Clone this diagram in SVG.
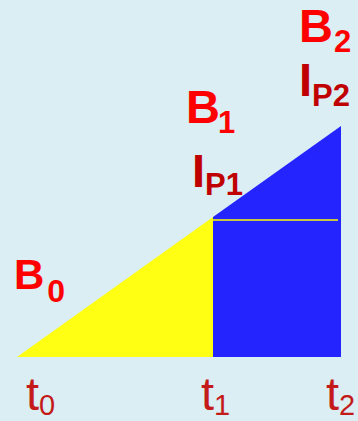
<svg xmlns="http://www.w3.org/2000/svg" width="358" height="421" viewBox="0 0 358 421">
<style>
.lb{font-family:"Liberation Sans",Arial,sans-serif;font-weight:bold;fill:#FF0000}
.li{font-family:"Liberation Sans",Arial,sans-serif;font-weight:bold;fill:#C00000}
.lt{font-family:"Liberation Sans",Arial,sans-serif;fill:#C41A1A}
</style>
<rect width="358" height="421" fill="#DAEEF3"/>
<g id="shapes">
<polygon id="yellow" points="17,357 213,217 213,357" fill="#FFFF14"/>
<polygon id="blue" points="213,217 341,126 341,357 213,357" fill="#2424FF"/>
<line id="level" x1="213" y1="220" x2="338" y2="220" stroke="#FFFF00" stroke-width="1.5"/>
</g>
<g id="labels">
<text class="lb" x="299" y="42" font-size="47">B<tspan font-size="31" dy="10" dx="1">2</tspan></text>
<text class="li" x="299" y="96" font-size="47">I<tspan font-size="31" dy="10">P2</tspan></text>
<text class="lb" x="186" y="123" font-size="47">B<tspan font-size="31" dy="10" dx="-2">1</tspan></text>
<text class="li" x="192" y="187" font-size="47">I<tspan font-size="31" dy="8">P1</tspan></text>
<text class="lb" x="14" y="289" font-size="42">B<tspan font-size="32" dy="13" dx="3">0</tspan></text>
<text class="lt" x="26" y="410" font-size="47">t<tspan font-size="29" dy="5">0</tspan></text>
<text class="lt" x="201" y="410" font-size="47">t<tspan font-size="29" dy="5">1</tspan></text>
<text class="lt" x="326" y="410" font-size="47">t<tspan font-size="29" dy="5">2</tspan></text>
</g>
</svg>
